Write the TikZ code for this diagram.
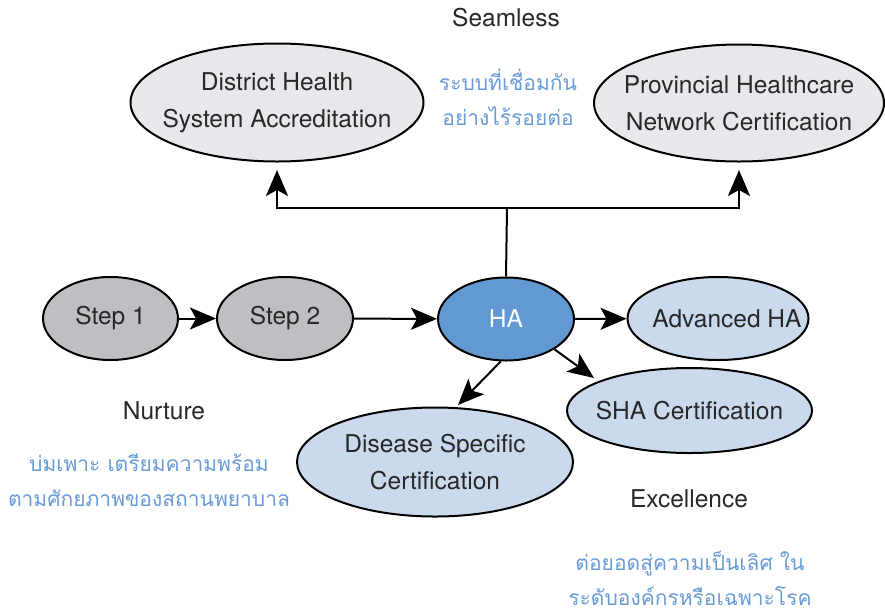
\documentclass[tikz,border=0pt]{standalone}
\usepackage{fontspec}
\setmainfont{TeX Gyre Heros}
\newfontfamily\thaifont[Script=Thai]{Loma}
\usetikzlibrary{shapes.geometric,arrows.meta}
\definecolor{haBlue}{RGB}{98,153,210}
\definecolor{lightBlue}{RGB}{203,217,237}
\definecolor{stepGrey}{RGB}{190,191,195}
\definecolor{topGrey}{RGB}{231,232,235}
\definecolor{thaiBlue}{RGB}{105,155,215}
\definecolor{inkGrey}{RGB}{40,40,40}

\begin{document}
\begin{tikzpicture}[x=1pt,y=-1pt,
  every node/.style={text=inkGrey,font=\fontsize{24.5}{37}\selectfont},
  oval/.style={ellipse,draw=black,line width=2pt,inner xsep=-60pt,inner ysep=-30pt,align=center},
  arr/.style={line width=2pt,-{Stealth[length=26pt,width=22pt,inset=6pt]}},
  thai/.style={text=thaiBlue,align=center,font=\thaifont\fontsize{21}{35}\selectfont}]
\useasboundingbox (0,0) rectangle (885,614);
% ovals
\node[oval,fill=topGrey,minimum width=293pt,minimum height=118pt] (district) at (277,102.5) {District Health\\System Accreditation};
\node[oval,fill=topGrey,minimum width=290pt,minimum height=117pt] (province) at (739,103) {Provincial Healthcare\\Network Certification};
\node[oval,fill=stepGrey,minimum width=135pt,minimum height=83pt] (step1) at (110.5,318.5) {Step 1};
\node[oval,fill=stepGrey,minimum width=136pt,minimum height=83pt] (step2) at (285,318.5) {Step 2};
\node[oval,fill=haBlue,text=white,minimum width=136pt,minimum height=83pt] (ha) at (506,319) {HA};
\node[oval,fill=lightBlue,minimum width=181pt,minimum height=83pt] (adv) at (718,318.5) {\hspace*{18pt}Advanced HA};
\node[oval,fill=lightBlue,minimum width=245pt,minimum height=85pt] (sha) at (689.5,410.5) {SHA Certification};
\node[oval,fill=lightBlue,minimum width=276pt,minimum height=109pt] (dsc) at (435,462) {Disease Specific\\Certification};
% labels
\node (seamless) at (506,18) {Seamless};
\node[thai] (seamlessTh) at (508,97) {ระบบที่เชื่อมกัน\\อย่างไร้รอยต่อ};
\node (nurture) at (164,411) {Nurture};
\node[thai] (nurtureTh) at (149,480) {บ่มเพาะ เตรียมความพร้อม\\ตามศักยภาพของสถานพยาบาล};
\node (excel) at (689,499) {Excellence};
\node[thai] (excelTh) at (690,578) {ต่อยอดสู่ความเป็นเลิศ ใน\\ระดับองค์กรหรือเฉพาะโรค};
% connectors
\coordinate (split) at (507,208);
\coordinate (tipL) at (277,170);
\coordinate (tipR) at (739,170);
\coordinate (tipSha) at (594,378);
\coordinate (tipDsc) at (458,405);
\draw[line width=2pt] (ha.north) -- (split);
\draw[arr] (split) -| (tipL);
\draw[arr] (split) -| (tipR);
\draw[arr] (step1) -- (step2);
\draw[arr] (step2) -- (ha);
\draw[arr] (ha) -- (adv);
\draw[arr] (ha.-32) -- (tipSha);
\draw[arr] (ha.263) -- (tipDsc);
\end{tikzpicture}
\end{document}
